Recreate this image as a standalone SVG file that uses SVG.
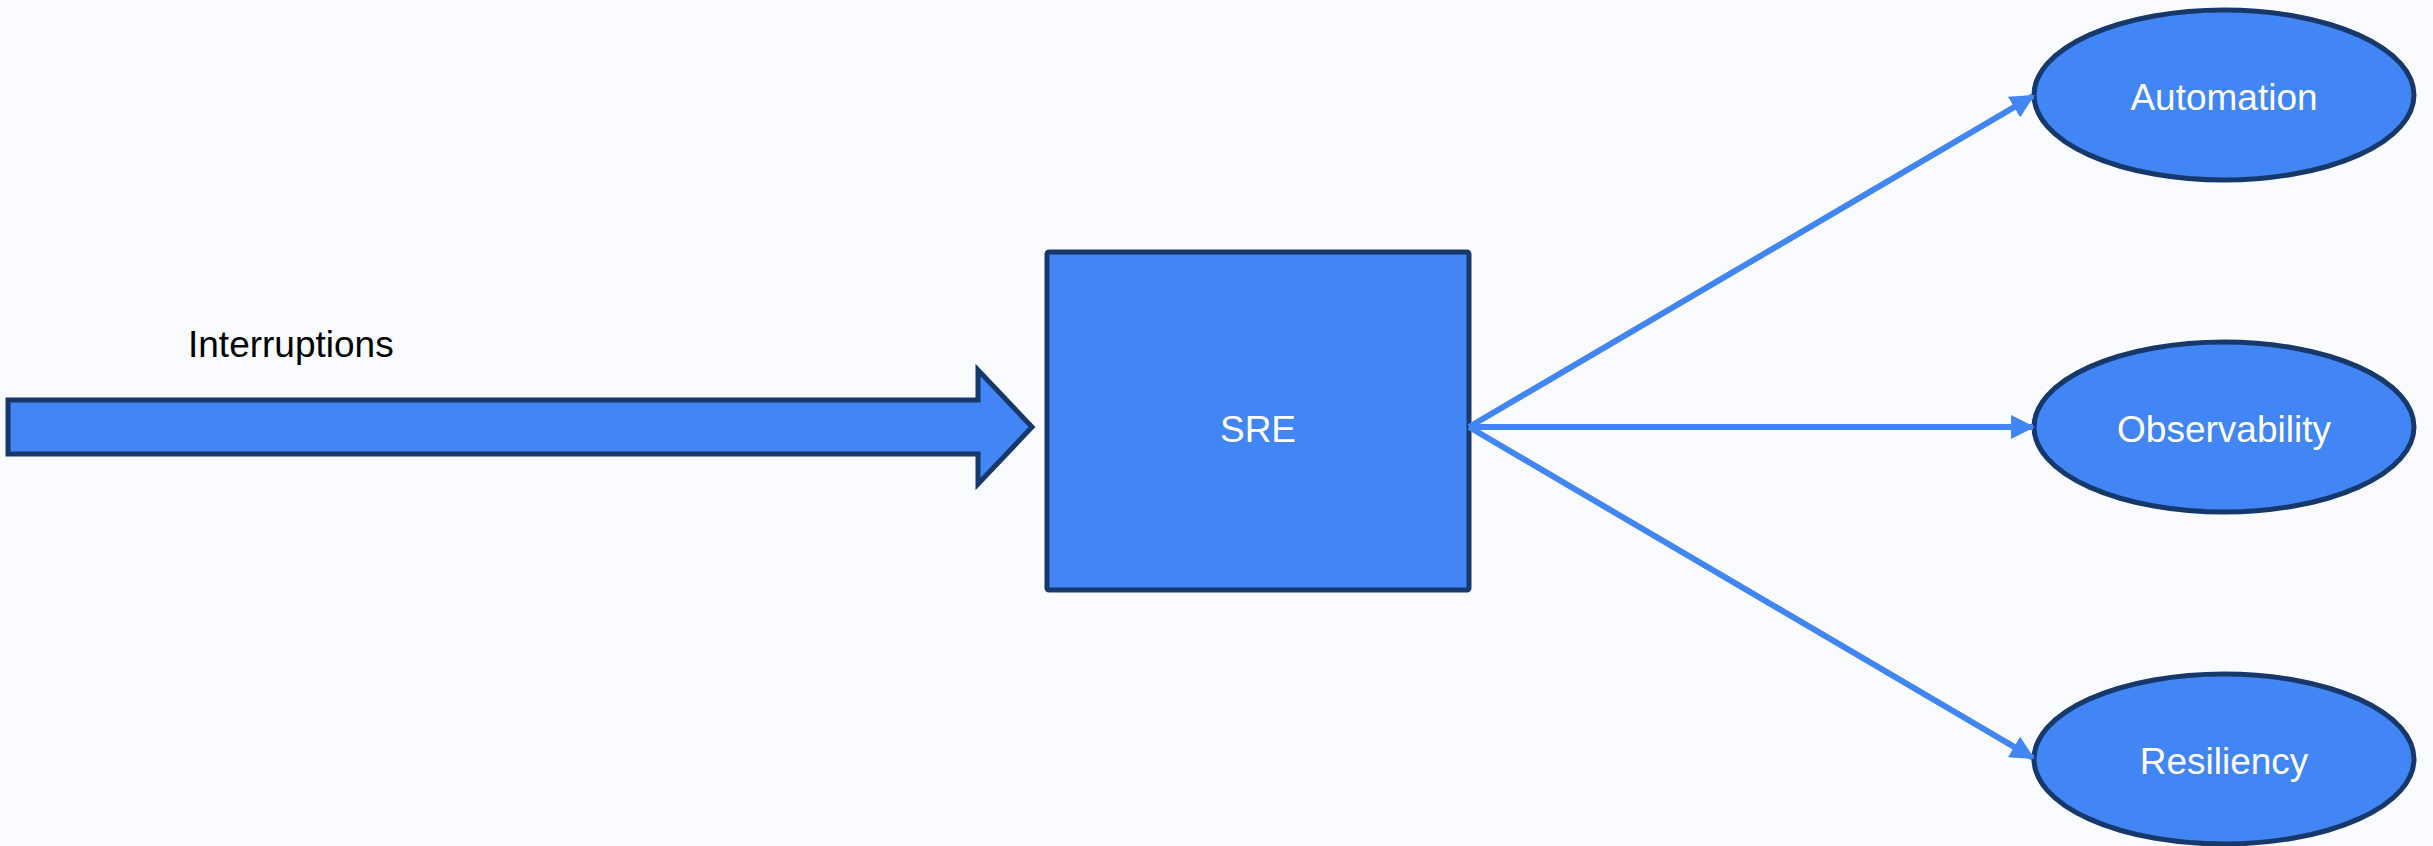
<svg xmlns="http://www.w3.org/2000/svg" width="2433" height="846" viewBox="0 0 2433 846">
  <style>
    .node { fill: #4285F4; stroke: #16386A; stroke-width: 5; }
    .lbl { font-family: "Liberation Sans", Arial, sans-serif; font-size: 37px; fill: #FFFFFF; text-anchor: middle; }
    .plain { font-family: "Liberation Sans", Arial, sans-serif; font-size: 37px; fill: #000000; }
    .conn { stroke: #4285F4; stroke-width: 6; fill: none; marker-end: url(#ah); }
  </style>
  <defs>
    <marker id="ah" markerWidth="24" markerHeight="24" viewBox="0 0 24 24" refX="22" refY="12" orient="auto" markerUnits="userSpaceOnUse">
      <path d="M0,0 L24,12 L0,24 Z" fill="#4285F4"/>
    </marker>
  </defs>
  <rect width="2433" height="846" fill="#F9FBFF"/>

  <g id="interruptions">
    <polygon class="node" points="8,400 978,400 978,370 1032,427 978,484 978,454 8,454"/>
    <text class="plain" x="188" y="357">Interruptions</text>
  </g>

  <g id="sre">
    <rect class="node" x="1047" y="252" width="422" height="338" rx="2"/>
    <text class="lbl" x="1258" y="442">SRE</text>
  </g>

  <g id="automation">
    <ellipse class="node" cx="2224" cy="95" rx="190" ry="85"/>
    <text class="lbl" x="2224" y="110">Automation</text>
  </g>

  <g id="observability">
    <ellipse class="node" cx="2224" cy="427" rx="190" ry="85"/>
    <text class="lbl" x="2224" y="442">Observability</text>
  </g>

  <g id="resiliency">
    <ellipse class="node" cx="2224" cy="759" rx="190" ry="85"/>
    <text class="lbl" x="2224" y="774">Resiliency</text>
  </g>

  <g id="connectors">
    <line class="conn" x1="1469" y1="427" x2="2033" y2="96"/>
    <line class="conn" x1="1469" y1="427" x2="2033" y2="427"/>
    <line class="conn" x1="1469" y1="427" x2="2033" y2="758"/>
  </g>
</svg>
